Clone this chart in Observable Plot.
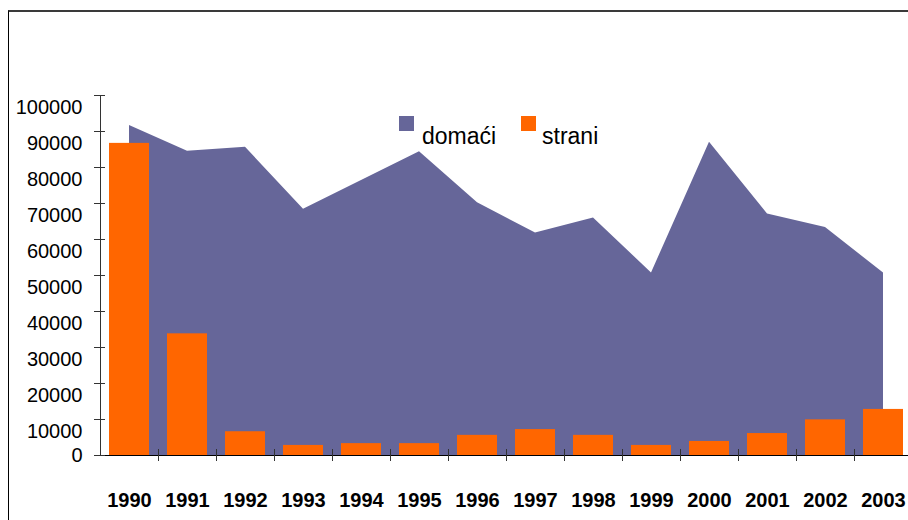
<!DOCTYPE html>
<html>
<head>
<meta charset="utf-8">
<script src="https://cdn.jsdelivr.net/npm/d3@7"></script>
<script src="https://cdn.jsdelivr.net/npm/@observablehq/plot@0.6"></script>
<style>
  html, body { margin: 0; padding: 0; background: #fff; overflow: hidden; }
  #wrap { position: relative; width: 908px; height: 520px; overflow: hidden; font-family: "Liberation Sans", Arial, sans-serif; }
  #frame { position: absolute; left: 8px; top: 10px; width: 920px; height: 530px; border-top: 2px solid #3a3a3a; border-left: 1px solid #000; }
  #chart { position: absolute; left: 0; top: 0; }
  #legend { position: absolute; left: 0; top: 0; pointer-events: none; }
</style>
</head>
<body>
<div id="wrap">
  <div id="frame"></div>
  <div id="chart"></div>
  <svg id="legend" width="908" height="520" font-family="Liberation Sans, Arial, sans-serif" font-size="23">
    <rect x="399" y="116" width="15" height="15" fill="#666699"></rect>
    <text x="422" y="144" fill="#000">domaći</text>
    <rect x="521" y="116" width="15" height="15" fill="#FF6600"></rect>
    <text x="542" y="144" fill="#000">strani</text>
  </svg>
</div>
<script>
const years = ["1990","1991","1992","1993","1994","1995","1996","1997","1998","1999","2000","2001","2002","2003"];
const domaci = [91700, 84500, 85600, 68400, 76400, 84400, 70200, 61800, 66000, 50700, 87000, 67100, 63300, 50700];
const strani = [86700, 33800, 6600, 2800, 3300, 3300, 5600, 7200, 5600, 2800, 3900, 6100, 9900, 12800];
const yTicks = [0, 10000, 20000, 30000, 40000, 50000, 60000, 70000, 80000, 90000, 100000];

const rows = years.map((y, i) => ({year: y, domaci: domaci[i], strani: strani[i]}));

const chart = Plot.plot({
  width: 912,
  height: 520,
  marginLeft: 100,
  marginRight: 0,
  marginTop: 95,
  marginBottom: 65,
  style: {fontFamily: "Liberation Sans, Arial, sans-serif", fontSize: "20px", color: "#000", background: "transparent", maxWidth: "none", overflow: "visible"},
  x: {type: "band", domain: years, padding: 0},
  y: {domain: [0, 100000]},
  marks: [
    Plot.areaY(rows, {x: "year", y: "domaci", fill: "#666699"}),
    Plot.barY(rows, {x: "year", y: "strani", fill: "#FF6600", insetLeft: 9, insetRight: 9}),
    Plot.ruleY([0], {stroke: "#000"}),
    Plot.frame({anchor: "left", stroke: "#333"}),
    // y ticks crossing the axis
    Plot.axisY({ticks: yTicks, tickSize: 11, dx: 5, fill: "none", stroke: "#333", label: null}),
    // y labels (Excel pushed all but the 0 label a bit down)
    Plot.axisY({ticks: yTicks.slice(1), tickSize: 0, tickPadding: 18, dy: 12, tickFormat: d => String(d), fill: "#000", stroke: "none", label: null}),
    Plot.axisY({ticks: [0], tickSize: 0, tickPadding: 18, tickFormat: d => String(d), fill: "#000", stroke: "none", label: null}),
    // x ticks at category boundaries
    Plot.axisX({ticks: years.slice(1), tickSize: 12, dx: -29, dy: -6, fill: "none", stroke: "#333", label: null}),
    // x labels
    Plot.axisX({tickSize: 0, tickPadding: 37, fill: "#000", stroke: "none", fontWeight: "bold", label: null})
  ]
});
document.getElementById("chart").appendChild(chart);
</script>
</body>
</html>
